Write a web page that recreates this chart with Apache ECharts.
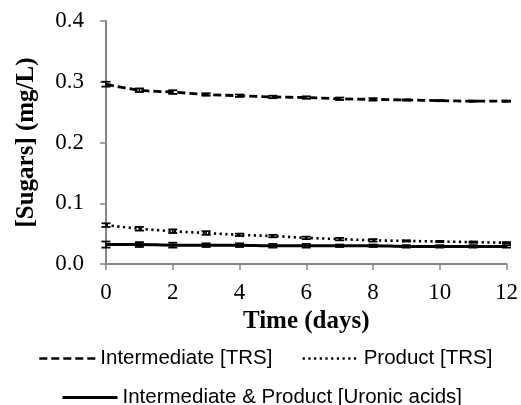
<!DOCTYPE html>
<html>
<head>
<meta charset="utf-8">
<script src="https://cdn.jsdelivr.net/npm/echarts@6/dist/echarts.min.js"></script>
<style>
  html, body { margin: 0; padding: 0; background: #fff; }
  #chart { width: 521px; height: 405px; }
</style>
</head>
<body>
<div id="chart"></div>
<script>
// time in days
const days = [0, 1, 2, 3, 4, 5, 6, 7, 8, 9, 10, 11, 12];
const yTicks = [0, 0.1, 0.2, 0.3, 0.4];

// series values (mg/L)
const intermediateTRS = [0.296, 0.286, 0.283, 0.279, 0.277, 0.275, 0.274, 0.272, 0.271, 0.270, 0.269, 0.268, 0.268];
const productTRS = [0.064, 0.058, 0.054, 0.051, 0.048, 0.046, 0.043, 0.041, 0.039, 0.038, 0.037, 0.036, 0.035];
const uronicAcids = [0.032, 0.032, 0.031, 0.031, 0.031, 0.030, 0.030, 0.030, 0.030, 0.029, 0.029, 0.029, 0.029];

// error bar half-widths
const intermediateErr = [0.004, 0.003, 0.003, 0.002, 0.002, 0.002, 0.002, 0.002, 0.002, 0.001, 0.001, 0.001, 0.001];
const productErr = [0.003, 0.003, 0.003, 0.003, 0.002, 0.002, 0.002, 0.002, 0.002, 0.001, 0.001, 0.001, 0.001];
const uronicErr = [0.005, 0.004, 0.004, 0.003, 0.003, 0.003, 0.003, 0.002, 0.002, 0.002, 0.002, 0.002, 0.002];

const names = ['Intermediate [TRS]', 'Product [TRS]', 'Intermediate & Product [Uronic acids]'];

const chart = echarts.init(document.getElementById('chart'));

const pairs = (vals) => days.map((d, i) => [d, vals[i]]);
const errData = (vals, errs) => days.map((d, i) => [d, vals[i] - errs[i], vals[i] + errs[i]]);

// vertical bar with caps
const renderErr = (params, api) => {
  const lo = api.coord([api.value(0), api.value(1)]);
  const hi = api.coord([api.value(0), api.value(2)]);
  const cap = 4.5;
  const style = { stroke: '#000', lineWidth: 1.8 };
  return {
    type: 'group',
    children: [
      { type: 'line', shape: { x1: lo[0], y1: lo[1], x2: hi[0], y2: hi[1] }, style },
      { type: 'line', shape: { x1: lo[0] - cap, y1: lo[1], x2: lo[0] + cap, y2: lo[1] }, style },
      { type: 'line', shape: { x1: hi[0] - cap, y1: hi[1], x2: hi[0] + cap, y2: hi[1] }, style }
    ]
  };
};

const errSeries = (vals, errs) => ({
  type: 'custom',
  renderItem: renderErr,
  data: errData(vals, errs),
  encode: { x: 0, y: [1, 2] },
  z: 3,
  silent: true
});

const legendText = { fontFamily: 'Liberation Sans', fontSize: 20.5, color: '#000' };

const option = {
  animation: false,
  grid: { left: 106, right: 13, top: 21, bottom: 141 },
  legend: [
    {
      data: [names[0], names[1]],
      left: 38,
      top: 348,
      padding: 0,
      itemWidth: 56,
      itemHeight: 14,
      itemGap: 29,
      itemStyle: { opacity: 0 },
      lineStyle: { width: 2.6 },
      textStyle: legendText
    },
    {
      data: [names[2]],
      left: 61,
      top: 387,
      padding: 0,
      itemWidth: 55,
      itemHeight: 14,
      itemStyle: { opacity: 0 },
      lineStyle: { width: 3 },
      textStyle: legendText
    }
  ],
  xAxis: {
    type: 'value',
    min: 0,
    max: 12,
    interval: 2,
    name: 'Time (days)',
    nameLocation: 'middle',
    nameGap: 43,
    nameTextStyle: { fontFamily: 'Liberation Serif', fontWeight: 'bold', fontSize: 25, color: '#000' },
    axisLine: { lineStyle: { color: '#868686', width: 2 } },
    axisTick: { inside: false, length: 6, lineStyle: { color: '#868686', width: 1.5 } },
    axisLabel: { fontFamily: 'Liberation Serif', fontSize: 23, color: '#000', margin: 17 },
    splitLine: { show: false }
  },
  yAxis: {
    type: 'value',
    min: yTicks[0],
    max: yTicks[yTicks.length - 1],
    interval: 0.1,
    name: '[Sugars] (mg/L)',
    nameLocation: 'middle',
    nameRotate: 90,
    nameGap: 67,
    nameTextStyle: { fontFamily: 'Liberation Serif', fontWeight: 'bold', fontSize: 25, color: '#000' },
    axisLine: { show: true, lineStyle: { color: '#868686', width: 2 } },
    axisTick: { show: true, inside: false, length: 6, lineStyle: { color: '#868686', width: 1.5 } },
    axisLabel: {
      fontFamily: 'Liberation Serif', fontSize: 23, color: '#000', margin: 22,
      formatter: (v) => v.toFixed(1)
    },
    splitLine: { show: false }
  },
  series: [
    {
      name: names[0],
      type: 'line',
      data: pairs(intermediateTRS),
      symbol: 'none',
      smooth: 0.3,
      lineStyle: { color: '#000', width: 2.8, type: [8, 4] },
      itemStyle: { color: '#000' },
      z: 4
    },
    {
      name: names[1],
      type: 'line',
      data: pairs(productTRS),
      symbol: 'none',
      smooth: 0.3,
      lineStyle: { color: '#000', width: 2.6, type: [2.2, 3.5] },
      itemStyle: { color: '#000' },
      z: 4
    },
    {
      name: names[2],
      type: 'line',
      data: pairs(uronicAcids),
      symbol: 'none',
      smooth: 0.3,
      lineStyle: { color: '#000', width: 3 },
      itemStyle: { color: '#000' },
      z: 4
    },
    errSeries(intermediateTRS, intermediateErr),
    errSeries(productTRS, productErr),
    errSeries(uronicAcids, uronicErr)
  ]
};

chart.setOption(option);
</script>
</body>
</html>
